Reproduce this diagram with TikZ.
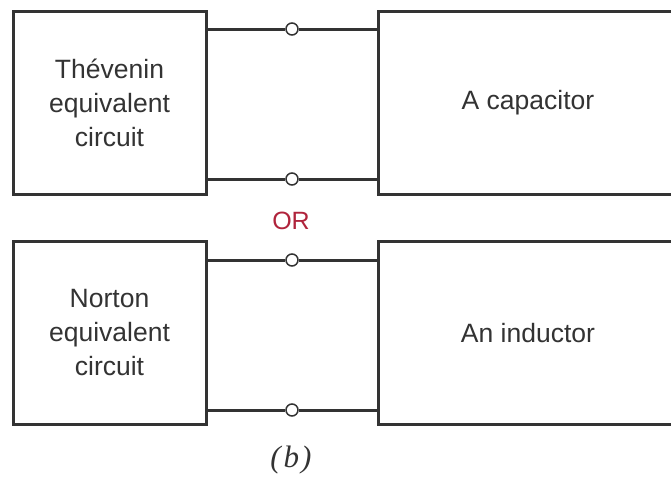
\documentclass[tikz,border=0pt]{standalone}
\usepackage{fontspec}
\setmainfont{Liberation Sans}
\newfontfamily\capfont{Liberation Serif}
\definecolor{ink}{HTML}{333333}
\definecolor{orred}{HTML}{B0243C}
\begin{document}
\begin{tikzpicture}[x=1pt,y=-1pt,
  box/.style={draw=ink,line width=3pt,inner sep=0pt,align=center,font=\fontsize{26.5}{34}\selectfont,text=ink},
  term/.style={circle,draw=ink,fill=white,line width=1.5pt,minimum size=12pt,inner sep=0pt},
  wire/.style={draw=ink,line width=3pt}]
\useasboundingbox (0,0) rectangle (671,477);
\clip (0,0) rectangle (671,477);
\fill[white] (0,0) rectangle (671,477);
% top
\node[box,minimum width=193pt,minimum height=183pt] (L1) at (109.5,102.5) {Thévenin\\equivalent\\circuit};
\node[box,minimum width=300pt,minimum height=183pt] (R1) at (528,102.5) {A capacitor};
\node[term] (c1) at (292,29) {};
\node[term] (c2) at (292,179) {};
\draw[wire] (L1.east|-c1) -- (c1) -- (R1.west|-c1);
\draw[wire] (L1.east|-c2) -- (c2) -- (R1.west|-c2);
% OR
\node[text=orred,font=\fontsize{25}{28}\selectfont] (or) at (291,221) {OR};
% bottom
\node[box,minimum width=193pt,minimum height=183pt] (L2) at (109.5,333) {Norton\\equivalent\\circuit};
\node[box,minimum width=300pt,minimum height=183pt] (R2) at (528,333) {An inductor};
\node[term] (c3) at (292,260) {};
\node[term] (c4) at (292,410) {};
\draw[wire] (L2.east|-c3) -- (c3) -- (R2.west|-c3);
\draw[wire] (L2.east|-c4) -- (c4) -- (R2.west|-c4);
% caption
\node[font=\capfont\itshape\fontsize{31}{34}\selectfont,text=ink] (cap) at (291,460) {(\kern3pt b\kern2pt)};
\end{tikzpicture}
\end{document}
